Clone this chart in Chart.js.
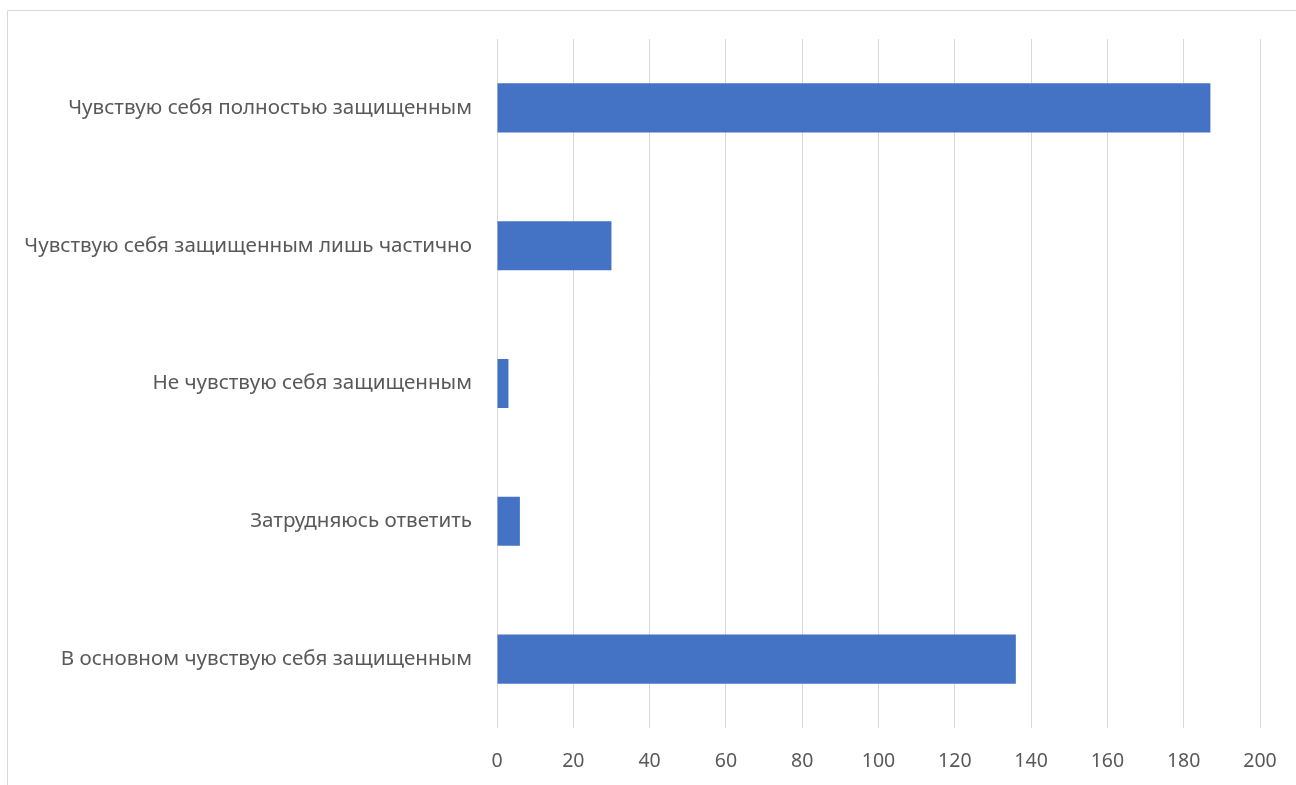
<!DOCTYPE html>
<html>
<head>
<meta charset="utf-8">
<script src="https://cdn.jsdelivr.net/npm/chart.js@4/dist/chart.umd.min.js"></script>
<style>
html,body{margin:0;padding:0;background:#fff;}
#wrap{position:absolute;left:0;top:0;width:1296px;height:785px;}
</style>
</head>
<body>
<div id="wrap"><canvas id="c" width="1296" height="785"></canvas></div>
<script>
const categories = [
  "Чувствую себя полностью защищенным",
  "Чувствую себя защищенным лишь частично",
  "Не чувствую себя защищенным",
  "Затрудняюсь ответить",
  "В основном чувствую себя защищенным"
];
const values = [187, 30, 3, 6, 136];
const xMin = 0, xMax = 200, xStep = 20;

const framePlugin = {
  id: 'frame',
  beforeDraw(chart) {
    const ctx = chart.ctx;
    ctx.save();
    ctx.strokeStyle = '#d9d9d9';
    ctx.lineWidth = 1;
    ctx.beginPath();
    ctx.moveTo(7.5, 785);
    ctx.lineTo(7.5, 10.5);
    ctx.lineTo(1296, 10.5);
    ctx.stroke();
    ctx.restore();
  }
};

new Chart(document.getElementById('c'), {
  type: 'bar',
  data: {
    labels: categories,
    datasets: [{
      data: values,
      backgroundColor: '#4472C4',
      borderWidth: 0,
      barPercentage: 0.356,
      categoryPercentage: 1
    }]
  },
  options: {
    indexAxis: 'y',
    responsive: false,
    animation: false,
    devicePixelRatio: 1,
    layout: { padding: { left: 0, right: 36, top: 39, bottom: 0 } },
    plugins: { legend: { display: false }, tooltip: { enabled: false } },
    scales: {
      x: {
        min: xMin, max: xMax,
        ticks: { stepSize: xStep, color: '#595959', font: { family: 'Noto Sans', size: 19.5 }, padding: 22 },
        grid: { color: '#d9d9d9', lineWidth: 1, drawTicks: false },
        border: { display: false },
        afterFit(s) { s.height = 57; s.paddingRight = 0; s.paddingLeft = 0; }
      },
      y: {
        ticks: { color: '#595959', font: { family: 'Noto Sans', size: 20.6 }, padding: 25 },
        grid: { display: false, drawTicks: false },
        border: { display: false },
        afterFit(s) { s.width = 497; }
      }
    }
  },
  plugins: [framePlugin]
});
</script>
</body>
</html>
